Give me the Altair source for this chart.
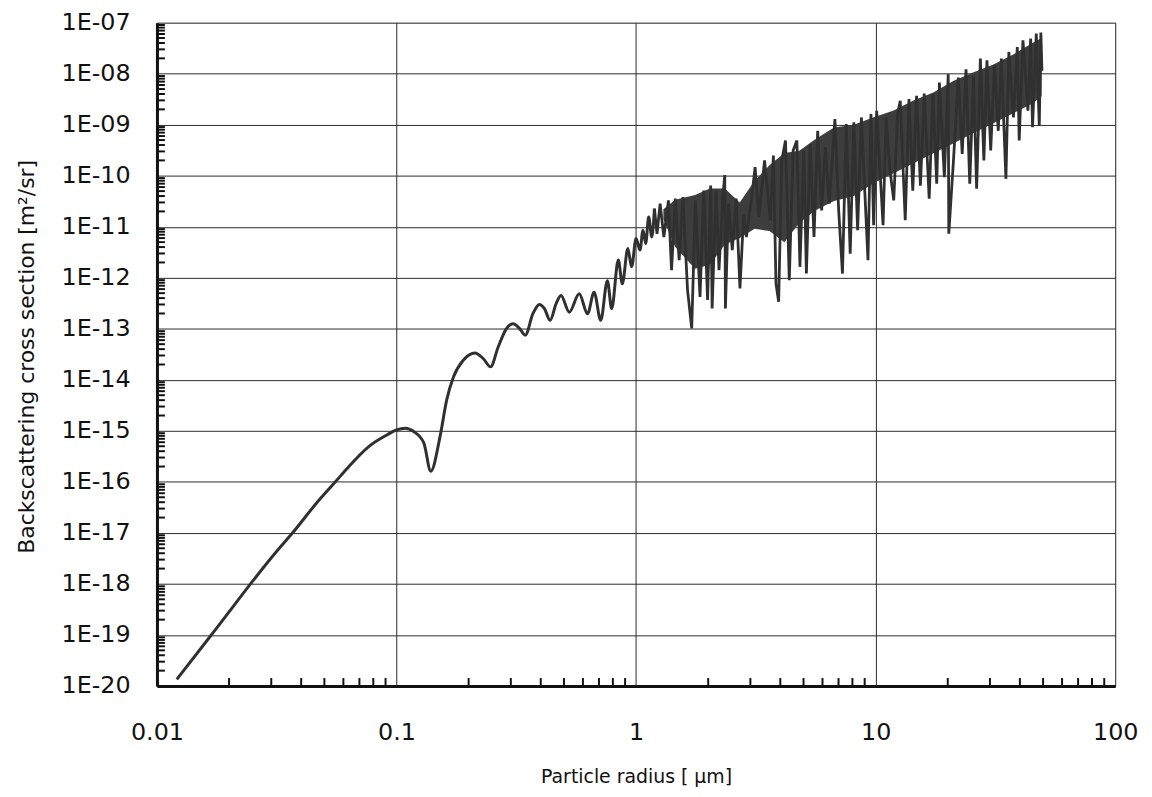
import altair as alt
import pandas as pd

# Smooth (Rayleigh / low-order Mie) part
smooth_radius = [0.0121, 0.01686, 0.0326, 0.0364, 0.0484, 0.0551, 0.0625, 0.0768, 0.0915, 0.100,
                 0.109, 0.118, 0.130, 0.139, 0.152, 0.162, 0.173, 0.190, 0.2126, 0.230,
                 0.247, 0.2657, 0.2876, 0.3066, 0.3266, 0.3447, 0.371, 0.395, 0.4145, 0.4377,
                 0.4634, 0.486, 0.526, 0.579, 0.627, 0.668, 0.712, 0.759, 0.791, 0.843,
                 0.876, 0.924, 0.958, 1.0, 1.038, 1.069, 1.097, 1.129, 1.163, 1.193]
smooth_sigma = [1.35e-20, 1e-19, 5.19e-18, 9.4e-18, 4.9e-17, 9.6e-17, 1.88e-16, 4.97e-16, 8.4e-16, 1.05e-15,
                1.13e-15, 9.7e-16, 5.8e-16, 1.62e-16, 7.8e-16, 4.04e-15, 1.15e-14, 2.43e-14, 3.37e-14, 2.62e-14,
                1.8e-14, 4.4e-14, 1.01e-13, 1.26e-13, 1.01e-13, 7.5e-14, 1.98e-13, 3.0e-13, 2.48e-13, 1.47e-13,
                3.1e-13, 4.5e-13, 2.12e-13, 4.85e-13, 1.98e-13, 5.2e-13, 1.47e-13, 8.8e-13, 2.48e-13, 2.23e-12,
                7.6e-13, 3.74e-12, 1.64e-12, 5.9e-12, 3.5e-12, 8.6e-12, 4.7e-12, 1.55e-11, 6.3e-12, 2.26e-11]

# Strongly oscillating part (peaks and troughs)
noisy_radius = [1.223, 1.26, 1.306, 1.365, 1.406, 1.458, 1.513, 1.569, 1.64, 1.707,
                1.769, 1.849, 1.917, 1.988, 2.048, 2.077, 2.156, 2.219, 2.302, 2.345,
                2.36, 2.431, 2.521, 2.617, 2.714, 2.813, 2.887, 3.027, 3.139, 3.255,
                3.438, 3.634, 3.743, 3.837, 3.937, 4.055, 4.205, 4.36, 4.525, 4.69,
                4.83, 5.01, 5.14, 5.33, 5.53, 5.73, 5.95, 6.17, 6.4, 6.76,
                7.01, 7.27, 7.54, 7.83, 8.11, 8.41, 8.72, 9.29, 9.56, 9.81,
                10.1, 10.74, 11.06, 11.48, 11.9, 12.35, 12.67, 13.29, 13.78, 14.29,
                14.82, 15.38, 15.95, 16.73, 17.34, 17.99, 18.46, 19.36, 20.09, 20.2,
                21.13, 22.14, 22.98, 23.84, 24.71, 25.62, 26.4, 27.37, 28.3, 29.15,
                30.22, 31.34, 32.49, 33.48, 34.98, 35.99, 37.6, 39.03, 39.74, 41.2,
                43.22, 44.36, 45.17, 46.84, 48.2, 48.94, 49.45]
noisy_sigma = [7.3e-12, 2.83e-11, 6.3e-12, 3.3e-11, 1.41e-12, 3.56e-11, 2.21e-12, 3.83e-11, 5.7e-13, 1.02e-13,
               3.3e-11, 4.2e-13, 5.1e-11, 3.66e-13, 6.4e-11, 2.51e-13, 5.1e-11, 1.41e-12, 3.83e-11, 1.03e-10,
               2.51e-13, 2.83e-11, 3.5e-12, 3.56e-11, 6.2e-13, 1.78e-11, 6.3e-12, 3.3e-11, 1.47e-10, 1.55e-11,
               2.01e-10, 1.34e-11, 2.49e-10, 7.7e-13, 3.39e-13, 1.99e-10, 4.9e-10, 9.0e-13, 3.12e-10, 4.9e-10,
               1.64e-12, 3.12e-10, 1.21e-12, 4.2e-10, 6.3e-12, 7.6e-10, 2.1e-11, 3.6e-10, 2.83e-11, 1.29e-9,
               2.1e-11, 1.21e-12, 1.03e-9, 2.98e-12, 1.11e-9, 8.6e-12, 1.39e-9, 2.21e-12, 1.62e-9, 1.07e-11,
               1.87e-9, 1.07e-11, 1.39e-9, 1.27e-10, 3.3e-11, 1.62e-9, 2.95e-9, 1.34e-11, 3.17e-9, 5.1e-11,
               3.69e-9, 6.4e-11, 4.1e-9, 3.56e-11, 4.1e-9, 6.95e-11, 6.7e-9, 9.4e-11, 9.8e-9, 7.3e-12,
               2.0e-10, 8.4e-9, 2.69e-10, 1.22e-8, 6.95e-11, 9.06e-9, 5.6e-11, 1.98e-8, 2.0e-10, 1.84e-8,
               3.12e-10, 1.47e-8, 7.6e-10, 1.98e-8, 8.7e-11, 2.67e-8, 1.39e-9, 3.34e-8, 4.9e-10, 4.5e-8,
               1.88e-9, 4.9e-8, 8.9e-10, 6.1e-8, 9.6e-10, 6.4e-8, 1.14e-8]

# Envelope of the densely filled oscillation band (upper and lower edge of the dark core)
band_radius = [1.30, 1.457, 1.763, 2.034, 2.347, 2.708, 3.124, 3.606, 4.16, 4.80, 5.54, 6.70,
               8.11, 9.82, 11.89, 14.38, 17.41, 21.07, 25.50, 30.86, 37.36, 45.2, 49.3]
band_upper = [2.2e-11, 3.4e-11, 4.2e-11, 5.6e-11, 5.6e-11, 3.0e-11, 8.0e-11, 1.6e-10, 2.8e-10, 3.1e-10,
              5.0e-10, 8.8e-10, 1.0e-9, 1.4e-9, 1.9e-9, 3.0e-9, 4.3e-9, 7.2e-9, 1.05e-8, 1.5e-8,
              2.35e-8, 4.0e-8, 5.0e-8]
band_lower = [1.4e-11, 4.0e-12, 1.5e-12, 1.8e-12, 4.5e-12, 6.0e-12, 9.1e-12, 8.3e-12, 5.0e-12, 1.19e-11,
              2.04e-11, 3.2e-11, 4.0e-11, 7.2e-11, 1.12e-10, 1.76e-10, 2.76e-10, 4.3e-10, 6.8e-10, 1.06e-9,
              1.66e-9, 2.6e-9, 3.6e-9]

x_major = [0.01, 0.1, 1, 10, 100]
y_major = [1e-20, 1e-19, 1e-18, 1e-17, 1e-16, 1e-15, 1e-14, 1e-13, 1e-12, 1e-11, 1e-10, 1e-9, 1e-8, 1e-7]
minor_mult = [2, 3, 4, 5, 6, 7, 8, 9]
x_minor = [m * d for d in x_major[:-1] for m in minor_mult]
y_minor = [m * d for d in y_major[:-1] for m in minor_mult]

smooth_df = pd.DataFrame({"r": smooth_radius, "s": smooth_sigma})
noisy_df = pd.DataFrame({"r": smooth_radius[-1:] + noisy_radius, "s": smooth_sigma[-1:] + noisy_sigma})
noisy_df["i"] = range(len(noisy_df))
band_df = pd.DataFrame({"r": band_radius, "s": band_upper, "s2": band_lower})

W, H = 965, 668
FONT = "DejaVu Sans"
INK = "#111111"
LINE = "#303030"
xscale = alt.Scale(type="log", domain=[0.01, 100], nice=False)
yscale = alt.Scale(type="log", domain=[1e-20, 1e-7], nice=False)

y_label = ("'1E-' + (round(-log(datum.value)/LN10) < 10 ? '0' : '') + "
           "round(-log(datum.value)/LN10)")

x_axis = alt.Axis(values=x_major, format="~g", grid=True, gridColor="#2a2a2a", gridWidth=1,
                  ticks=False, domainColor=INK, domainWidth=3,
                  labelFont=FONT, labelFontSize=24, labelColor=INK,
                  labelPadding=35, labelFlush=False, labelOverlap=False, labelBound=False,
                  title="Particle radius [ μm]", titleFont=FONT, titleFontSize=19,
                  titleFontWeight="normal", titleColor=INK,
                  titleY=91, titleBaseline="middle")
y_axis = alt.Axis(values=y_major, labelExpr=y_label, grid=True, gridColor="#2a2a2a", gridWidth=1,
                  ticks=False, domainColor=INK, domainWidth=3,
                  labelFont=FONT, labelFontSize=24, labelColor=INK,
                  labelPadding=27, labelFlush=False, labelOverlap=False, labelBound=False,
                  title="Backscattering cross section [m²/sr]", titleFont=FONT,
                  titleFontSize=22, titleFontWeight="normal", titleColor=INK,
                  titleAngle=-90, titleX=-131, titleY=H / 2 + 2, titleBaseline="middle")

smooth = alt.Chart(smooth_df).mark_line(color=LINE, strokeWidth=3, interpolate="monotone").encode(
    x=alt.X("r:Q", scale=xscale, axis=x_axis),
    y=alt.Y("s:Q", scale=yscale, axis=y_axis),
)
band = alt.Chart(band_df).mark_area(color="#3d3d3d", opacity=1).encode(
    x=alt.X("r:Q", scale=xscale), y=alt.Y("s:Q", scale=yscale), y2="s2:Q")
noisy = alt.Chart(noisy_df).mark_line(color=LINE, strokeWidth=2.8).encode(
    x=alt.X("r:Q", scale=xscale), y=alt.Y("s:Q", scale=yscale), order="i:Q")

xm = alt.Chart(pd.DataFrame({"v": x_minor})).mark_rule(color=INK, strokeWidth=2).encode(
    x=alt.X("v:Q", scale=xscale), y=alt.value(H), y2=alt.value(H - 8))
ym = alt.Chart(pd.DataFrame({"v": y_minor})).mark_rule(color=INK, strokeWidth=2).encode(
    y=alt.Y("v:Q", scale=yscale), x=alt.value(0), x2=alt.value(8))

chart = alt.layer(smooth, band, noisy, xm, ym).properties(
    width=W, height=H,
    autosize=alt.AutoSizeParams(type="none"),
    padding={"left": 150, "top": 12, "right": 29, "bottom": 109},
).configure_view(stroke=INK, strokeWidth=2).configure(background="white")

chart.save("out.html", embed_options={"renderer": "svg", "actions": False})
